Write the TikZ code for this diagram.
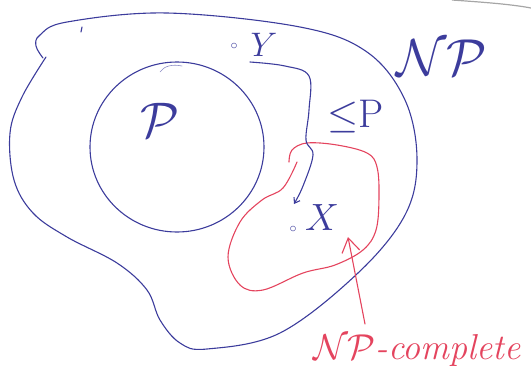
\RequirePackage{fix-cm}
\documentclass[tikz,border=0pt]{standalone}
\usetikzlibrary{arrows.meta}
\definecolor{pen}{HTML}{3C3C9C}
\definecolor{redpen}{HTML}{E4445E}
\tikzset{
  bluepen/.style={draw=pen, line width=1.1pt, line cap=round, line join=round},
  redline/.style={draw=redpen, line width=1.1pt, line cap=round, line join=round},
  lbl/.style={inner sep=0pt, text=pen},
}
\begin{document}
\begin{tikzpicture}[x=1pt,y=-1pt]
\useasboundingbox (0,0) rectangle (531,381);
% scan artefact
\draw[gray!70, line width=1.2pt] (452,0) .. controls (480,2) and (510,4) .. (531,8);
% NP region
\draw[bluepen] plot[smooth, tension=0.6] coordinates {(43,58) (36,46) (40,35) (67,22) (167,13) (300,27) (367,52) (405,100) (417,160) (405,215) (358,273) (280,333) (207,349) (180,343) (160,320) (147,290) (117,263) (67,237) (33,213) (14,180) (10,133) (22,97) (46,57)};
\draw[bluepen] (82,27) -- (81,32);
% P region
\draw[bluepen] (177,147) ellipse [x radius=87, y radius=85];
\draw[bluepen, line width=0.6pt, pen!60] (160,72) .. controls (164,66) and (172,64) .. (182,66);
% NP-complete region
\draw[redline] plot[smooth, tension=0.6] coordinates {(289,162) (292,150) (307,143) (337,145) (367,153) (377,167) (379,197) (376,230) (363,250) (335,265) (303,273) (263,290) (240,285) (228,257) (240,222) (262,200) (283,188) (297,162)};
% labels
\node[lbl, font=\fontsize{52}{52}\selectfont] (np) at (442,58) {$\mathcal{NP}$};
\node[lbl, font=\fontsize{50}{50}\selectfont] (p) at (160,120) {$\mathcal{P}$};
\node[lbl, font=\fontsize{34}{34}\selectfont] (y) at (264,45) {$Y$};
\node[lbl, font=\fontsize{14}{14}\selectfont] (ydot) at (234,46) {$\circ$};
\node[lbl, font=\fontsize{38}{38}\selectfont] (x) at (322,218) {$X$};
\node[lbl, font=\fontsize{14}{14}\selectfont] (xdot) at (293,229) {$\circ$};
\node[lbl, font=\fontsize{40}{40}\selectfont] (red) at (356,117) {$\leq$P};
\node[inner sep=0pt, text=redpen, font=\fontsize{36}{36}\selectfont\itshape] (npc) at (417,350) {$\mathcal{NP}$-complete};
% reduction Y -> X
\coordinate (ys) at (250,62);
\coordinate (xe) at (294,204);
\draw[bluepen, -{Straight Barb[length=5pt,width=7pt]}] plot[smooth, tension=0.6] coordinates {(ys) (285,66) (309,76) (309,110) (306,140) (313,155) (303,186) (xe)};
% pointer to NP-complete set
\coordinate (tip) at (348,237);
\coordinate (from) at (365,324);
\draw[redline, -{Straight Barb[length=14pt,width=18pt]}] (from) -- (tip);
\end{tikzpicture}
\end{document}
